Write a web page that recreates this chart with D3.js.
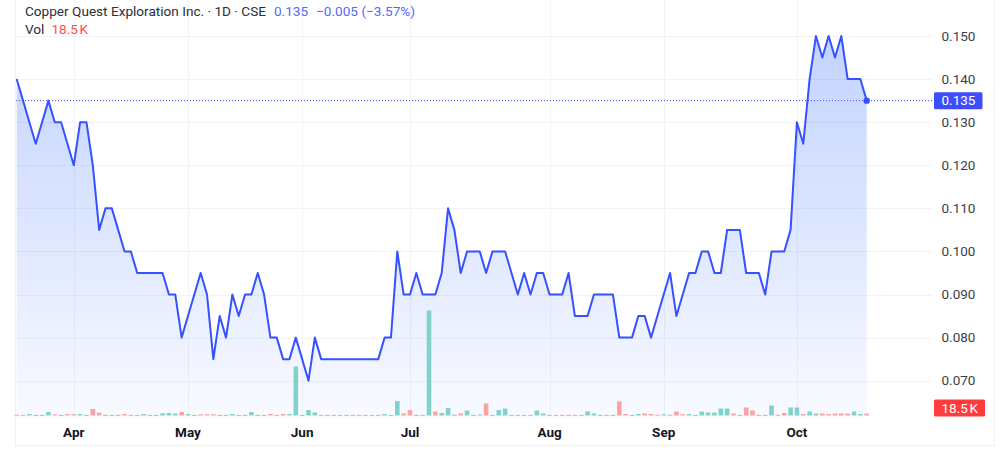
<!DOCTYPE html>
<html><head><meta charset="utf-8">
<script src="https://cdn.jsdelivr.net/npm/d3@7"></script>
<style>
html,body{margin:0;padding:0;background:#fff;}
svg{display:block;font-family:Roboto,"Liberation Sans",Arial,sans-serif;}
</style></head>
<body><svg id="c" width="1000" height="460"></svg>
<script>
// ---- data ----
const title = "Copper Quest Exploration Inc. · 1D · CSE";
const lastPriceText = "0.135";
const changeText = "\u22120.005 (\u22123.57%)";
const volLabel = "Vol";
const lastVolText = "18.5\u202FK";

const prices = [
 0.140,0.135,0.130,0.125,0.130,0.135,0.130,0.130,0.125,0.120,
 0.130,0.130,0.120,0.105,0.110,0.110,0.105,0.100,0.100,0.095,
 0.095,0.095,0.095,0.095,0.090,0.090,0.080,0.085,0.090,0.095,
 0.090,0.075,0.085,0.080,0.090,0.085,0.090,0.090,0.095,0.090,
 0.080,0.080,0.075,0.075,0.080,0.075,0.070,0.080,0.075,0.075,
 0.075,0.075,0.075,0.075,0.075,0.075,0.075,0.075,0.080,0.080,
 0.100,0.090,0.090,0.095,0.090,0.090,0.090,0.095,0.110,0.105,
 0.095,0.100,0.100,0.100,0.095,0.100,0.100,0.100,0.095,0.090,
 0.095,0.090,0.095,0.095,0.090,0.090,0.090,0.095,0.085,0.085,
 0.085,0.090,0.090,0.090,0.090,0.080,0.080,0.080,0.085,0.085,
 0.080,0.085,0.090,0.095,0.085,0.090,0.095,0.095,0.100,0.100,
 0.095,0.095,0.105,0.105,0.105,0.095,0.095,0.095,0.090,0.100,
 0.100,0.100,0.105,0.130,0.125,0.140,0.150,0.145,0.150,0.145,
 0.150,0.140,0.140,0.140,0.135
];
// volume in thousands of shares
const volumes = [
 8,6,15,6,6,35,12,6,14,14,
 15,6,65,28,6,6,6,15,6,6,
 15,6,6,22,25,20,35,15,6,12,
 12,12,6,6,15,6,6,35,6,6,
 15,6,15,15,490,5,55,30,6,6,
 6,6,6,6,6,6,6,6,15,6,
 145,20,55,6,6,1050,40,25,75,8,
 20,50,6,10,120,6,55,70,6,6,
 6,6,50,20,6,6,6,6,6,6,
 42,20,6,6,6,140,15,6,15,20,
 15,8,12,8,40,12,15,6,40,30,
 30,70,70,20,6,80,50,6,6,100,
 8,25,80,80,15,40,20,20,15,20,
 20,20,40,15,18.5
];
// 1 = up bar (teal), 0 = down bar (red)
const volUp = [
 0,0,1,1,1,1,0,1,0,0,
 1,1,0,0,1,1,1,0,0,0,
 1,1,1,1,1,1,0,1,1,0,
 0,0,0,1,1,1,1,1,1,1,
 0,0,0,1,1,0,1,1,0,0,
 0,0,0,0,0,0,0,0,1,1,
 1,0,0,1,1,1,0,1,1,1,
 0,1,1,1,0,1,1,1,0,0,
 0,0,1,1,0,0,0,0,0,0,
 1,1,1,1,1,0,0,1,1,0,
 0,0,1,1,0,0,1,1,1,1,
 1,1,1,0,1,0,0,1,1,1,
 0,0,1,1,0,1,1,0,0,0,
 0,0,1,1,0
];
const monthLabels = ["Apr","May","Jun","Jul","Aug","Sep","Oct"];
const monthIdx    = [9, 27, 45, 62, 84, 102, 123];
const priceTicks  = [0.070,0.080,0.090,0.100,0.110,0.120,0.130,0.140,0.150];

// ---- layout ----
const plotL = 16, plotR = 932, paneBottom = 418;
const svg = d3.select("#c");

const x = d3.scaleLinear().domain([0, prices.length-1]).range([16.7, 866.7]);
const y = d3.scaleLinear().domain([0.070, 0.150]).range([380.7, 36]);
const volBase = 415.5;
const yv = d3.scaleLinear().domain([0, d3.max(volumes)]).range([volBase, volBase-105]);

// frame
svg.append("rect").attr("x",15.5).attr("y",-2).attr("width",979).attr("height",447.5)
  .attr("fill","none").attr("stroke","#eef0f3").attr("stroke-width",1);

// grid
const grid = svg.append("g").attr("stroke","#f1f3f7").attr("stroke-width",1);
grid.selectAll("line.h").data(priceTicks).join("line")
  .attr("x1",plotL).attr("x2",plotR)
  .attr("y1",d=>Math.round(y(d))+0.5).attr("y2",d=>Math.round(y(d))+0.5);
grid.selectAll("line.v").data(monthIdx).join("line")
  .attr("x1",d=>Math.round(x(d))+0.5).attr("x2",d=>Math.round(x(d))+0.5)
  .attr("y1",0).attr("y2",paneBottom);

// area gradient
const defs = svg.append("defs");
const grad = defs.append("linearGradient").attr("id","ag")
  .attr("gradientUnits","userSpaceOnUse").attr("x1",0).attr("x2",0)
  .attr("y1",y(0.150)).attr("y2",paneBottom);
grad.append("stop").attr("offset","0%").attr("stop-color","#2962ff").attr("stop-opacity",0.28);
grad.append("stop").attr("offset","100%").attr("stop-color","#2962ff").attr("stop-opacity",0.03);

const area = d3.area().x((d,i)=>x(i)).y0(paneBottom).y1(d=>y(d));
svg.append("path").datum(prices).attr("d",area).attr("fill","url(#ag)");

// volume bars
svg.append("g").selectAll("rect").data(volumes).join("rect")
  .attr("x",(d,i)=>x(i)-2.3).attr("width",4.6)
  .attr("y",d=>yv(d)).attr("height",d=>Math.max(1,volBase-yv(d)))
  .attr("fill",(d,i)=>volUp[i]? "#7fd3ca":"#f9a3a2");

// price line
const line = d3.line().x((d,i)=>x(i)).y(d=>y(d));
svg.append("path").datum(prices).attr("d",line)
  .attr("fill","none").attr("stroke","#3651ff").attr("stroke-width",2)
  .attr("stroke-linejoin","round");

// last price dotted line
const lastY = y(prices[prices.length-1]);
svg.append("line").attr("x1",plotL).attr("x2",plotR).attr("y1",lastY).attr("y2",lastY)
  .attr("stroke","#3651ff").attr("stroke-width",1).attr("stroke-dasharray","1,2");
svg.append("circle").attr("cx",x(prices.length-1)).attr("cy",lastY).attr("r",3.2).attr("fill","#3651ff");

// price axis labels
svg.append("g").selectAll("text").data(priceTicks).join("text")
  .attr("x",941.5).attr("y",d=>y(d)).attr("dy","0.35em")
  .attr("font-size",13.5).attr("fill","#3b3e45")
  .text(d=>d3.format(".3f")(d));

// last price tag
svg.append("rect").attr("x",934).attr("y",lastY-8.5).attr("width",48.5).attr("height",17).attr("rx",1.5)
  .attr("fill","#3d4dff");
svg.append("text").attr("x",941.5).attr("y",lastY).attr("dy","0.35em").attr("font-size",13.5)
  .attr("fill","#fff").text(lastPriceText);

// volume tag
const vTagY = Math.min(yv(volumes[volumes.length-1]), 408);
svg.append("rect").attr("x",934).attr("y",vTagY-8.5).attr("width",51).attr("height",17).attr("rx",1.5)
  .attr("fill","#ff3b3b");
svg.append("text").attr("x",941.5).attr("y",vTagY).attr("dy","0.35em").attr("font-size",13.5)
  .attr("fill","#fff").text(lastVolText);

// time axis labels
svg.append("g").selectAll("text").data(monthIdx).join("text")
  .attr("x",d=>x(d)).attr("y",432).attr("dy","0.35em").attr("text-anchor","middle")
  .attr("font-size",13.5).attr("font-weight","bold").attr("fill","#131722")
  .text((d,i)=>monthLabels[i]);

// header
const h1 = svg.append("text").attr("x",25).attr("y",16).attr("font-size",13.6).attr("fill","#2a2e39");
h1.append("tspan").text(title);
h1.append("tspan").attr("dx",8).attr("fill","#4f6bff").text(lastPriceText);
h1.append("tspan").attr("dx",8).attr("fill","#4f6bff").text(changeText);
const h2 = svg.append("text").attr("x",25).attr("y",34).attr("font-size",13.6).attr("fill","#2a2e39");
h2.append("tspan").text(volLabel);
h2.append("tspan").attr("dx",7).attr("fill","#ff4d4d").text(lastVolText);
</script>
</body></html>
